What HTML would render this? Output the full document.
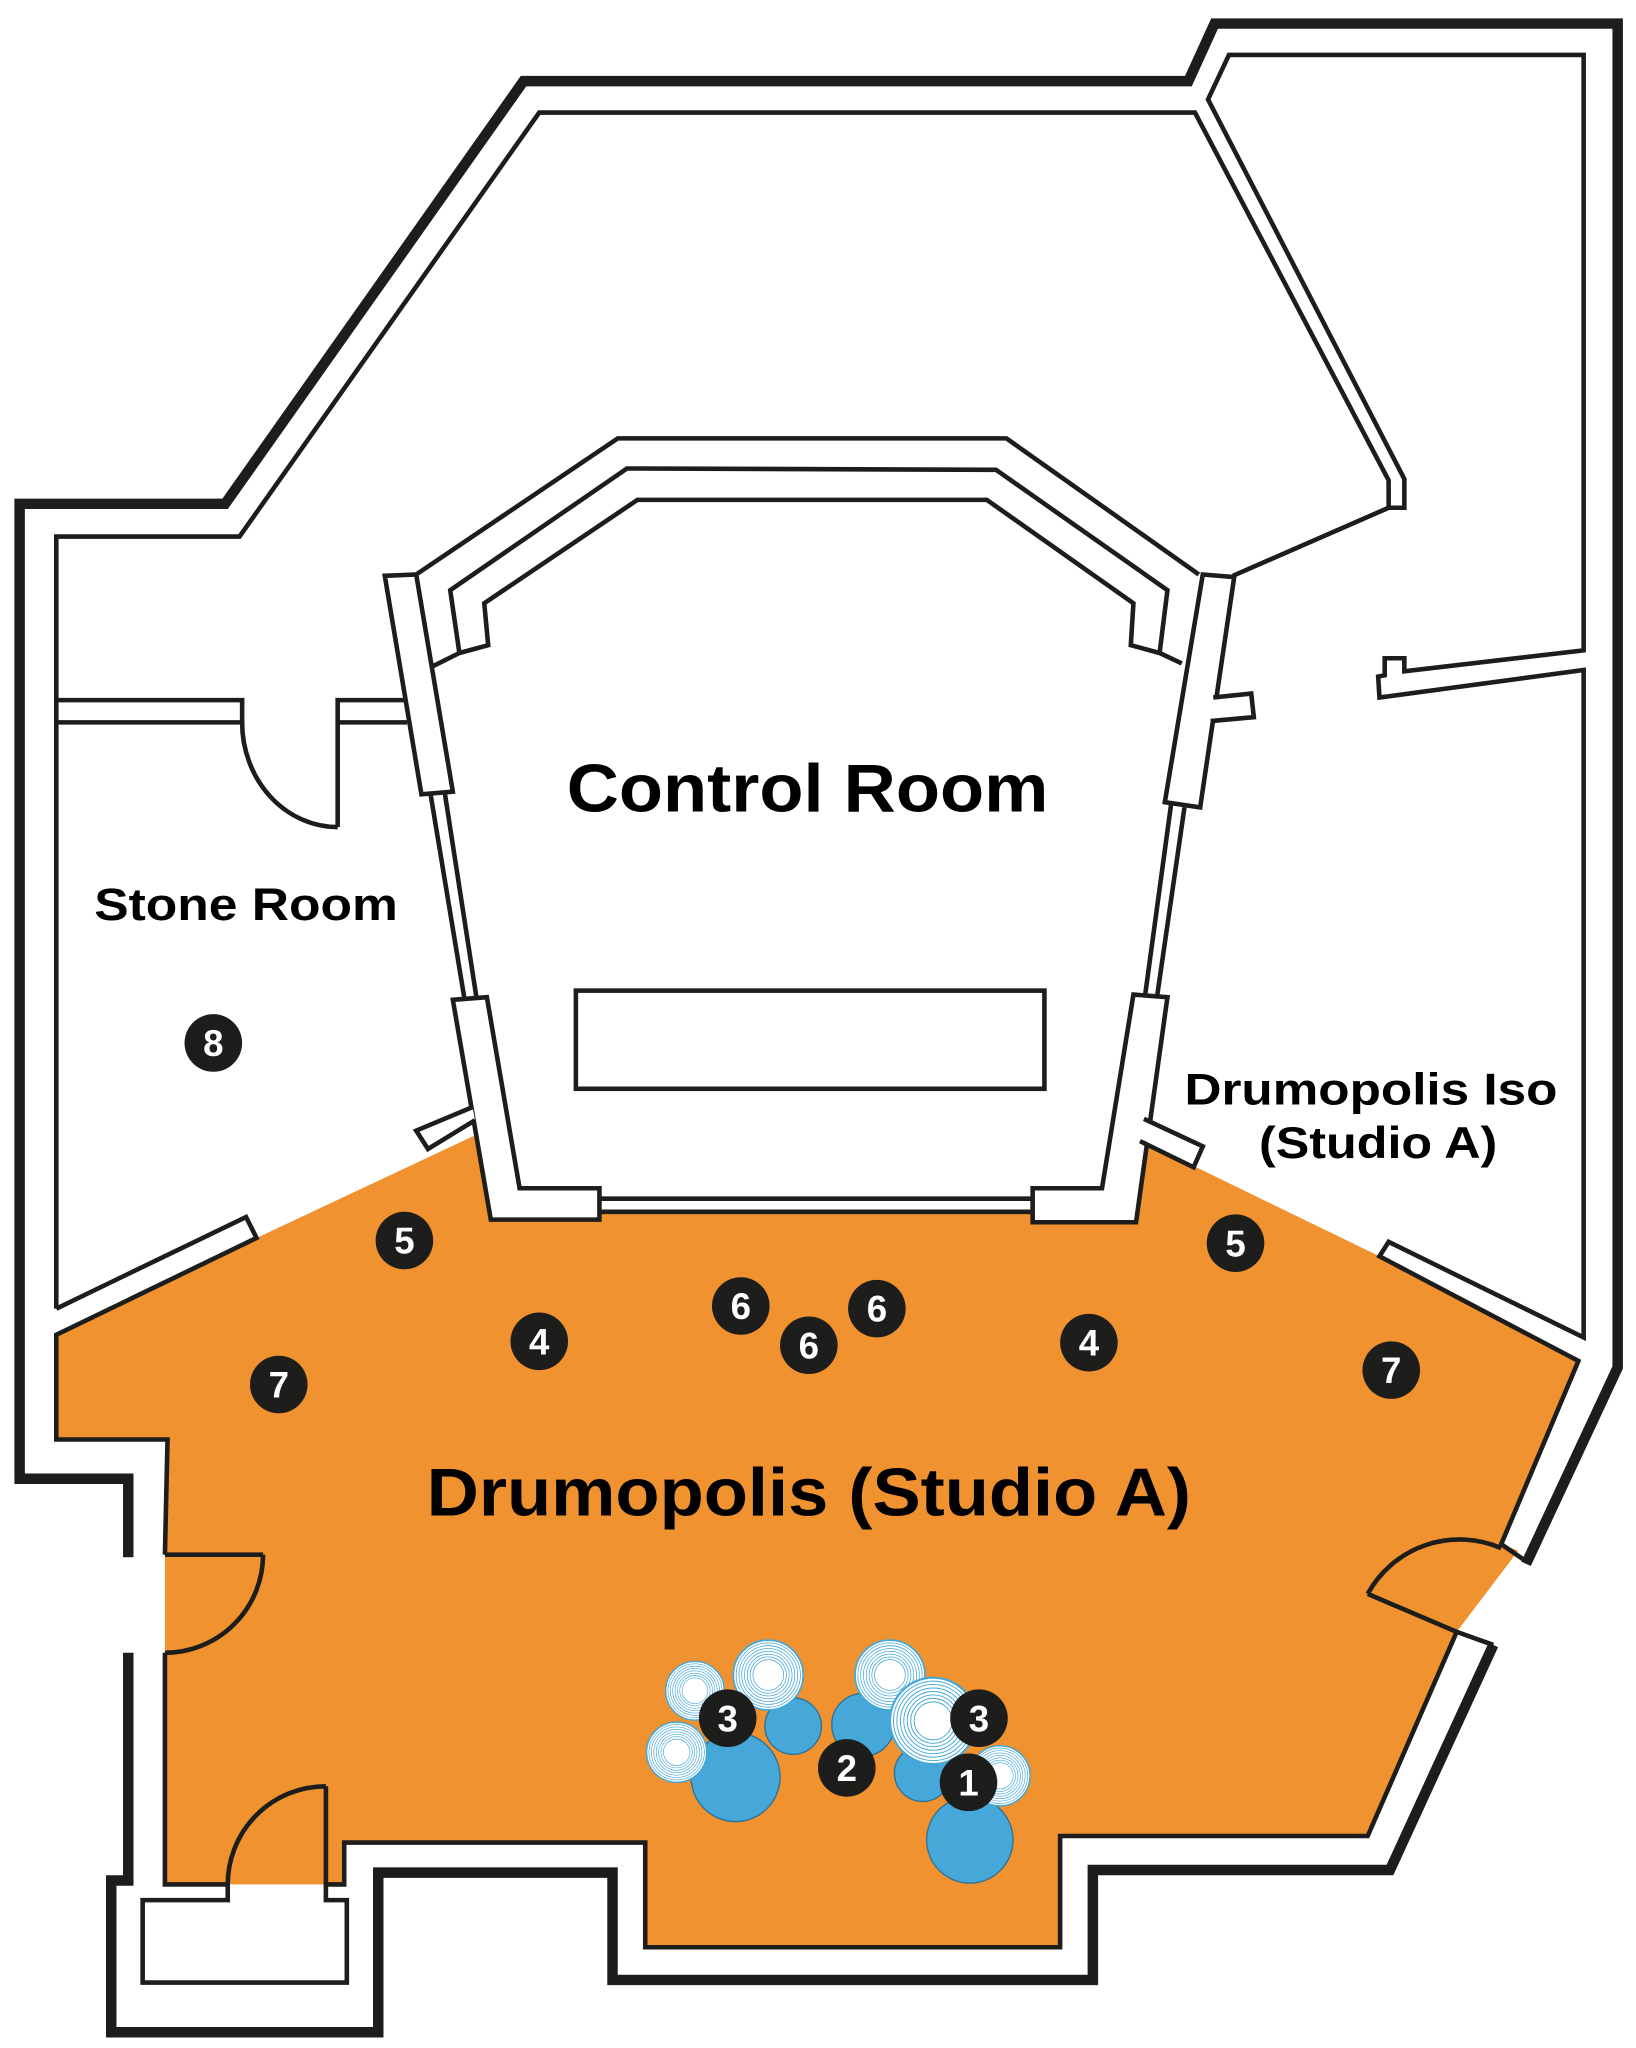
<!DOCTYPE html>
<html><head><meta charset="utf-8"><style>
html,body{margin:0;padding:0;background:#fff;}
svg{display:block;}
text{font-family:"Liberation Sans",Arial,sans-serif;font-weight:bold;fill:#000;}
</style></head><body>
<svg width="1636" height="2048" viewBox="0 0 1250 1565" preserveAspectRatio="none" xmlns="http://www.w3.org/2000/svg">
<defs>
<g id="cym">
<circle r="1" fill="#fff" stroke="#45a8d8" stroke-width="0.05"/>
<circle r="0.92" fill="none" stroke="#45a8d8" stroke-width="0.022"/>
<circle r="0.84" fill="none" stroke="#45a8d8" stroke-width="0.022"/>
<circle r="0.76" fill="none" stroke="#45a8d8" stroke-width="0.022"/>
<circle r="0.68" fill="none" stroke="#45a8d8" stroke-width="0.022"/>
<circle r="0.6" fill="none" stroke="#45a8d8" stroke-width="0.022"/>
<circle r="0.52" fill="none" stroke="#45a8d8" stroke-width="0.022"/>
<circle r="0.44" fill="none" stroke="#45a8d8" stroke-width="0.022"/>
</g>
</defs>
<polygon fill="#f0922f" points="43,1020 196,946 362,868 375,932 458,932 458,926 789,926 789,934 868,934 875,873 1054,960 1206,1040 1147,1180 1160,1185 1113,1247 1045,1403 810,1403 810,1488 493,1488 493,1408 263,1408 263,1440 126,1440 126,1188 128,1100 43,1100"/>
<g fill="none" stroke="#1d1d1b" stroke-linejoin="miter">
<polyline stroke-width="8" points="98,1190 98,1130 15,1130 15,385 172,385 400,62 908,62 928,18 1236,18 1236,1045 1166,1195"/>
<polyline stroke-width="8" points="1141,1257 1062,1429 835,1429 835,1513 468,1513 468,1431 289,1431 289,1553 85,1553 85,1437 98,1437 98,1263"/>
<g stroke-width="3.5">
<polyline points="43,1000 43,410 183,410 412,86 913,86 1061,367 1061,388 1073,388 1073,366 923,76 939,42 1210,42 1210,497 1073,513 1073,503 1058,503 1058,516 1053,517 1054,533 1210,512 1210,1022 1061,949 1054,960 1206,1040 1147,1180 1166,1193"/>
<polyline points="1141,1257 1113,1247 1045,1403 810,1403 810,1488 493,1488 493,1408 263,1408 263,1440 249,1440 249,1452 265,1452 265,1515 109,1515 109,1452 174,1452 174,1440 126,1440 126,1263"/>
<polyline points="126,1188 128,1100 43,1100 43,1020 196,946 188,930 43,1000"/>
<polyline points="43,535 185,535 185,552 43,552"/>
<polyline points="258,632 258,535 315,535"/>
<polyline points="258,552 311,552"/>
<path d="M185,552 A73,80 0 0 0 258,632"/>
<line x1="126" y1="1188" x2="201" y2="1188"/>
<path d="M201,1188 A75,75 0 0 1 126,1263"/>
<line x1="249" y1="1440" x2="249" y2="1365"/>
<path d="M249,1365 A75,75 0 0 0 174,1440"/>
<line x1="1113" y1="1247" x2="1045" y2="1218"/>
<path d="M1045,1218 A80,80 0 0 1 1147,1183"/>
<polyline points="1061,388 942,440"/>
<polyline points="318,439 472,335 769,335 916,439"/>
<polyline points="331,509 351,499 344,451 479,358 761,359 892,451 886,499 903,507"/>
<polyline fill="#fff" points="351,499 373,493 370,461 487,382 754,382 866,461 864,493 886,499"/>
<polygon fill="#fff" points="294,440 318,439 346,605 322,607"/>
<polygon fill="#fff" points="919,439 943,441 917,617 890,613"/>
<polygon fill="#fff" points="346,764 372,762 397,908 458,908 458,932 375,932"/>
<polygon fill="#fff" points="866,760 892,762 868,934 789,934 789,908 842,908"/>
<line x1="329" y1="607" x2="355" y2="764"/>
<line x1="340" y1="607" x2="364" y2="762"/>
<line x1="895" y1="613" x2="875" y2="760"/>
<line x1="905" y1="617" x2="884" y2="762"/>
<line x1="458" y1="916" x2="789" y2="916"/>
<line x1="458" y1="926" x2="789" y2="926"/>
<polyline fill="#fff" points="927,533 956,530 958,548 925,551"/>
<polyline fill="#fff" points="361,846 318,864 327,878 363,856"/>
<polyline fill="#fff" points="874,855 919,876 912,892 871,872"/>
<rect x="440" y="757" width="358" height="75" fill="#fff"/>
</g>
</g>
<g fill="#45a8d8" stroke="#2f6f93" stroke-width="1">
<circle cx="562" cy="1358" r="34"/>
<circle cx="606" cy="1319" r="21.6"/>
<circle cx="659.5" cy="1318" r="24"/>
<circle cx="705" cy="1355" r="21.6"/>
<circle cx="741" cy="1406" r="33"/>
</g>
<use href="#cym" transform="translate(531,1292) scale(22.4)"/>
<use href="#cym" transform="translate(587,1280) scale(26.7)"/>
<use href="#cym" transform="translate(517,1339) scale(23)"/>
<use href="#cym" transform="translate(680,1280) scale(26.7)"/>
<use href="#cym" transform="translate(713,1315) scale(33)"/>
<use href="#cym" transform="translate(764,1357) scale(23)"/>
<text x="433" y="620" font-size="52" textLength="368" lengthAdjust="spacingAndGlyphs">Control Room</text>
<text x="72" y="703" font-size="35" textLength="232" lengthAdjust="spacingAndGlyphs">Stone Room</text>
<text x="905" y="844" font-size="34" textLength="285" lengthAdjust="spacingAndGlyphs">Drumopolis Iso</text>
<text x="962" y="885" font-size="34" textLength="182" lengthAdjust="spacingAndGlyphs">(Studio A)</text>
<text x="326" y="1158" font-size="52" textLength="584" lengthAdjust="spacingAndGlyphs">Drumopolis (Studio A)</text>
<g font-size="28" text-anchor="middle">
<g><circle cx="163" cy="797" r="22" fill="#1d1d1b"/><text x="163" y="807" style="fill:#fff">8</text></g>
<g><circle cx="309" cy="948" r="22" fill="#1d1d1b"/><text x="309" y="958" style="fill:#fff">5</text></g>
<g><circle cx="944" cy="950" r="22" fill="#1d1d1b"/><text x="944" y="960" style="fill:#fff">5</text></g>
<g><circle cx="566" cy="998" r="22" fill="#1d1d1b"/><text x="566" y="1008" style="fill:#fff">6</text></g>
<g><circle cx="670" cy="1000" r="22" fill="#1d1d1b"/><text x="670" y="1010" style="fill:#fff">6</text></g>
<g><circle cx="618" cy="1028" r="22" fill="#1d1d1b"/><text x="618" y="1038" style="fill:#fff">6</text></g>
<g><circle cx="412" cy="1025" r="22" fill="#1d1d1b"/><text x="412" y="1035" style="fill:#fff">4</text></g>
<g><circle cx="832" cy="1026" r="22" fill="#1d1d1b"/><text x="832" y="1036" style="fill:#fff">4</text></g>
<g><circle cx="213" cy="1058" r="22" fill="#1d1d1b"/><text x="213" y="1068" style="fill:#fff">7</text></g>
<g><circle cx="1063" cy="1047" r="22" fill="#1d1d1b"/><text x="1063" y="1057" style="fill:#fff">7</text></g>
<g><circle cx="556" cy="1313" r="22" fill="#1d1d1b"/><text x="556" y="1323" style="fill:#fff">3</text></g>
<g><circle cx="748" cy="1313" r="22" fill="#1d1d1b"/><text x="748" y="1323" style="fill:#fff">3</text></g>
<g><circle cx="647" cy="1351" r="22" fill="#1d1d1b"/><text x="647" y="1361" style="fill:#fff">2</text></g>
<g><circle cx="740" cy="1362" r="22" fill="#1d1d1b"/><text x="740" y="1372" style="fill:#fff">1</text></g>
</g>
</svg>
</body></html>
